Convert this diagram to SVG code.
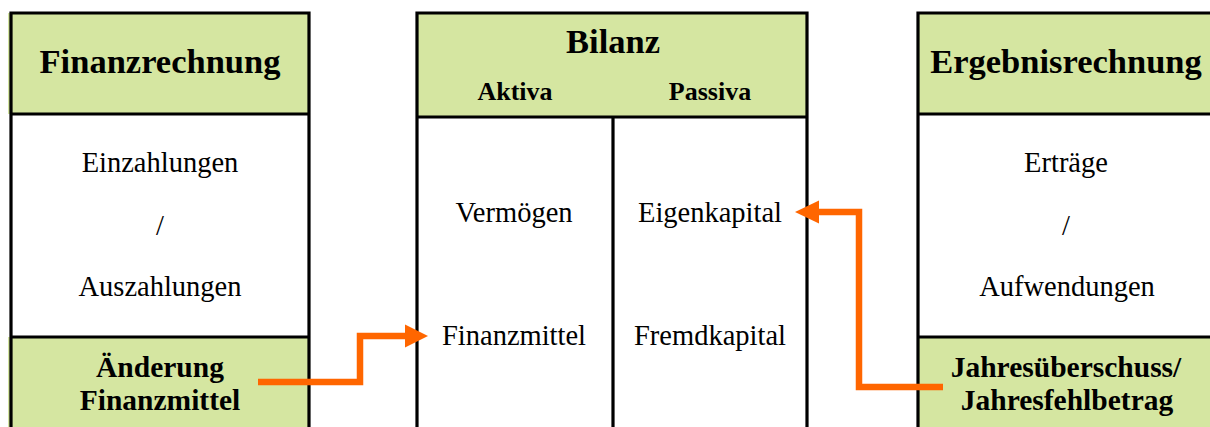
<svg xmlns="http://www.w3.org/2000/svg" width="1210" height="427" viewBox="0 0 1210 427">
<style>
.g{fill:#D5E6A1}
.ln{fill:none;stroke:#000;stroke-width:3.2}
text{font-family:"Liberation Serif","Times New Roman",serif;fill:#000;text-anchor:middle}
.t{font-size:34.5px;font-weight:bold}
.h{font-size:26px;font-weight:bold}
.r{font-size:28.5px}
.b{font-size:29.5px;font-weight:bold}
.arr{fill:none;stroke:#FF6600;stroke-width:6.5}
.ah{fill:#FF6600}
</style>
<rect width="1210" height="427" fill="#fff"/>
<g id="finanzrechnung">
<rect class="g" x="8" y="13" width="301" height="101"/>
<rect class="g" x="8" y="337" width="301" height="92"/>
<path class="ln" d="M11,430 V13 H309 V430 M11,114 H309 M11,337 H309"/>
<text class="t" x="160" y="73">Finanzrechnung</text>
<text class="r" x="160" y="172">Einzahlungen</text>
<text class="r" x="160" y="235">/</text>
<text class="r" x="160" y="296">Auszahlungen</text>
<text class="b" x="160" y="377">Änderung</text>
<text class="b" x="160" y="410">Finanzmittel</text>
</g>
<g id="bilanz">
<rect class="g" x="417" y="13" width="390" height="104"/>
<path class="ln" d="M417,430 V13 H807 V430 M417,117 H807 M613,117 V430"/>
<text class="t" x="613" y="53">Bilanz</text>
<text class="h" x="515" y="100">Aktiva</text>
<text class="h" x="710" y="100">Passiva</text>
<text class="r" x="514" y="222">Vermögen</text>
<text class="r" x="710" y="222">Eigenkapital</text>
<text class="r" x="514" y="345">Finanzmittel</text>
<text class="r" x="710" y="345">Fremdkapital</text>
</g>
<g id="ergebnisrechnung">
<rect class="g" x="918" y="13" width="300" height="101"/>
<rect class="g" x="918" y="337" width="300" height="92"/>
<path class="ln" d="M918,430 V13 H1220 M918,114 H1220 M918,337 H1220"/>
<text class="t" x="1066" y="73">Ergebnisrechnung</text>
<text class="r" x="1066" y="172">Erträge</text>
<text class="r" x="1066" y="235">/</text>
<text class="r" x="1067" y="296">Aufwendungen</text>
<text class="b" x="1066" y="377">Jahresüberschuss/</text>
<text class="b" x="1067" y="410">Jahresfehlbetrag</text>
</g>
<g id="connectors">
<path class="arr" d="M258,382 H360 V336 H408"/>
<polygon class="ah" points="428,336 405,324.5 405,347.5"/>
<path class="arr" d="M943,387 H859 V212 H815"/>
<polygon class="ah" points="795,212 819,200.5 819,223.5"/>
</g>
</svg>
